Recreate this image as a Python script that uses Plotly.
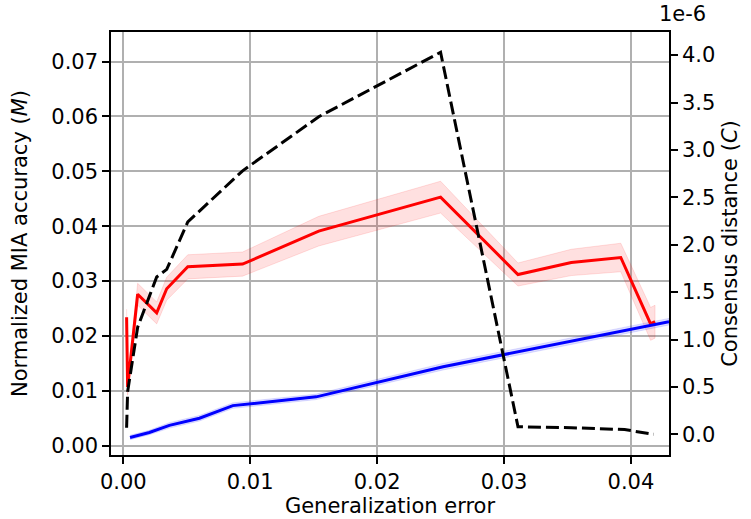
import plotly.graph_objects as go

# Normalized MIA accuracy (M) vs generalization error, two configurations
gen_err_red = [0.00026, 0.00034, 0.00113, 0.00263, 0.00342, 0.00508, 0.0094,
               0.0154, 0.0250, 0.0311, 0.0353, 0.0392, 0.04155, 0.0419]
mia_red = [0.0234, 0.0107, 0.0276, 0.0242, 0.0286, 0.0326, 0.0331,
           0.0391, 0.0453, 0.0312, 0.0334, 0.0343, 0.0222, 0.0226]
mia_red_std = [0.0015, 0.0015, 0.0020, 0.0020, 0.0021, 0.0022, 0.0022,
               0.0027, 0.0029, 0.0021, 0.0024, 0.0026, 0.0030, 0.0030]

gen_err_blue = [0.00053, 0.00205, 0.00363, 0.0060, 0.00863, 0.0152, 0.0252, 0.0430]
mia_blue = [0.0015, 0.0024, 0.0037, 0.0050, 0.0073, 0.0089, 0.0144, 0.0226]
mia_blue_std = [0.0004, 0.0004, 0.0005, 0.0005, 0.0005, 0.0005, 0.0006, 0.0006]

# Consensus distance (C)
gen_err_c = [0.00026, 0.00034, 0.00113, 0.00263, 0.00342, 0.00508, 0.0094,
             0.0154, 0.0250, 0.0311, 0.0353, 0.0395, 0.0418]
consensus = [0.07e-6, 0.45e-6, 1.13e-6, 1.66e-6, 1.74e-6, 2.24e-6, 2.78e-6,
             3.35e-6, 4.03e-6, 0.08e-6, 0.07e-6, 0.05e-6, 0.0]

x_ticks = [0.00, 0.01, 0.02, 0.03, 0.04]
y_ticks = [0.00, 0.01, 0.02, 0.03, 0.04, 0.05, 0.06, 0.07]
c_ticks = [0.0, 0.5e-6, 1.0e-6, 1.5e-6, 2.0e-6, 2.5e-6, 3.0e-6, 3.5e-6, 4.0e-6]

FONT = "DejaVu Sans"
FSIZE = 21


def band(x, mean, std):
    upper = [m + s for m, s in zip(mean, std)]
    lower = [m - s for m, s in zip(mean, std)]
    return list(x) + list(x[::-1]), upper + lower[::-1]


fig = go.Figure()

bx, by = band(gen_err_red, mia_red, mia_red_std)
fig.add_trace(go.Scatter(x=bx, y=by, fill="toself", mode="lines",
                         fillcolor="rgba(255,0,0,0.12)",
                         line=dict(color="rgba(255,0,0,0.12)", width=1),
                         showlegend=False, hoverinfo="skip"))
bx, by = band(gen_err_blue, mia_blue, mia_blue_std)
fig.add_trace(go.Scatter(x=bx, y=by, fill="toself", mode="lines",
                         fillcolor="rgba(0,0,255,0.12)",
                         line=dict(color="rgba(0,0,255,0.12)", width=1),
                         showlegend=False, hoverinfo="skip"))

fig.add_trace(go.Scatter(x=gen_err_red, y=mia_red, mode="lines",
                         line=dict(color="#ff0000", width=3), showlegend=False))
fig.add_trace(go.Scatter(x=gen_err_blue, y=mia_blue, mode="lines",
                         line=dict(color="#0000ff", width=3), showlegend=False))

fig.add_trace(go.Scatter(x=gen_err_c, y=consensus, mode="lines", yaxis="y2",
                         line=dict(color="black", width=3, dash="13px,5px"),
                         showlegend=False))

axis_common = dict(
    showline=True, linecolor="black", linewidth=1.5,
    ticks="outside", ticklen=7, tickwidth=1.5, tickcolor="black",
    zeroline=False, automargin=False,
    tickfont=dict(family=FONT, size=FSIZE, color="black"),
)

fig.update_layout(
    width=751, height=519,
    margin=dict(l=111, r=82, t=32, b=64),
    paper_bgcolor="white", plot_bgcolor="white",
    font=dict(family=FONT, size=FSIZE, color="black"),
    xaxis=dict(
        range=[-0.00097, 0.0430],
        tickvals=x_ticks, ticktext=[f"{v:.2f}" for v in x_ticks],
        showgrid=True, gridcolor="#b0b0b0", gridwidth=1.5,
        mirror=True,
        title=dict(text="Generalization error", standoff=1,
                   font=dict(family=FONT, size=FSIZE)),
        **axis_common,
    ),
    yaxis=dict(
        range=[-0.0017, 0.0754],
        tickvals=y_ticks, ticktext=[f"{v:.2f}" for v in y_ticks],
        showgrid=True, gridcolor="#b0b0b0", gridwidth=1.5,
        title=dict(text="Normalized MIA accuracy (<i>M</i>)", standoff=18,
                   font=dict(family=FONT, size=FSIZE)),
        **axis_common,
    ),
    yaxis2=dict(
        overlaying="y", side="right",
        range=[-0.218e-6, 4.244e-6],
        tickvals=c_ticks, ticktext=[f"{v * 1e6:.1f}" for v in c_ticks],
        showgrid=False,
        title=dict(text="Consensus distance (<i>C</i>)", standoff=8,
                   font=dict(family=FONT, size=FSIZE)),
        **axis_common,
    ),
    annotations=[dict(
        text="1e-6", xref="paper", yref="paper", x=0.978, y=1.01,
        xanchor="left", yanchor="bottom", showarrow=False,
        font=dict(family=FONT, size=FSIZE, color="black"),
    )],
)

fig.write_html("out.html")
